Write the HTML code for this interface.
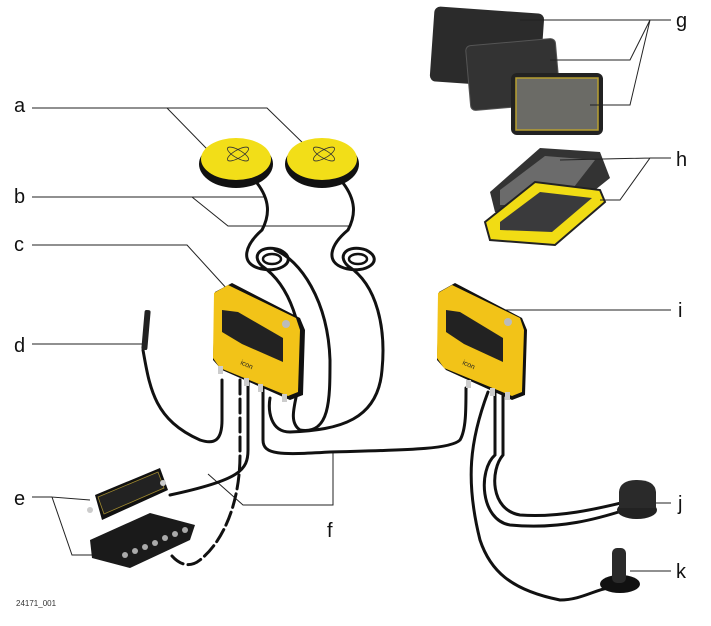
<!DOCTYPE html>
<html><head><style>
html,body{margin:0;padding:0;background:#fff;}
svg{display:block;}
text{font-family:"Liberation Sans",sans-serif;}
</style></head><body>
<svg width="711" height="626" viewBox="0 0 711 626" xmlns="http://www.w3.org/2000/svg">
<g font-size="20" fill="#111">
<text x="14" y="112">a</text>
<text x="14" y="203">b</text>
<text x="14" y="251">c</text>
<text x="14" y="352">d</text>
<text x="14" y="505">e</text>
<text x="327" y="537">f</text>
<text x="676" y="27">g</text>
<text x="676" y="166">h</text>
<text x="678" y="317">i</text>
<text x="678" y="510">j</text>
<text x="676" y="578">k</text>
</g>
<text x="16" y="606" font-size="8" fill="#333">24171_001</text>

<!-- tablets g -->
<g>
<rect x="432" y="10" width="110" height="75" rx="6" fill="#2b2b2b" transform="rotate(4 487 47)"/>
<rect x="468" y="42" width="90" height="65" rx="5" fill="#333" stroke="#555" transform="rotate(-5 513 74)"/>
<rect x="511" y="73" width="92" height="62" rx="6" fill="#222"/>
<rect x="516" y="78" width="82" height="52" fill="#6b6b66" stroke="#b8a030" stroke-width="1.5"/>
</g>
<!-- tablets h -->
<g>
<polygon points="490,192 540,148 600,152 610,178 560,218 495,212" fill="#333"/>
<polygon points="500,190 545,156 595,160 560,205 500,205" fill="#6b6b6b"/>
<polygon points="485,222 535,182 600,190 605,202 555,245 490,240" fill="#f1dc14" stroke="#222" stroke-width="2"/>
<polygon points="500,222 540,192 592,198 552,232 500,230" fill="#3a3a3c"/>
</g>

<!-- leader lines -->
<g stroke="#222" stroke-width="1" fill="none">
<path d="M32 108H167L207 149M167 108H267L308 148"/>
<path d="M32 197H265M192 197L228 226H350"/>
<path d="M32 245H187L228 290"/>
<path d="M32 344H143"/>
<path d="M32 497H52M90 500L52 497L72 555H112"/>
<path d="M333 452V505H243L208 474"/>
<path d="M671 20H650L520 20M650 20L630 60H550M650 20L630 105H590"/>
<path d="M671 158H650L620 200H600M650 158L560 160"/>
<path d="M671 310H500"/>
<path d="M671 503H650"/>
<path d="M671 571H630"/>
</g>

<!-- cables -->
<g stroke="#111" stroke-width="3" fill="none" stroke-linecap="round">
<path d="M257 183C270 200 270 215 262 230C245 245 240 262 258 268C280 275 300 260 280 250C262 244 250 255 262 266C290 285 305 330 300 370C300 395 285 420 300 430C330 435 330 400 330 360C328 300 300 260 275 250"/>
<ellipse cx="272" cy="259" rx="9" ry="5" stroke-width="2.5"/>
<path d="M343 183C356 200 356 215 348 230C330 245 325 262 344 268C366 275 386 260 366 250C348 244 336 255 348 266C378 285 386 330 382 370C378 420 340 430 290 432C270 432 268 410 270 398"/>
<ellipse cx="358" cy="259" rx="9" ry="5" stroke-width="2.5"/>
<path d="M143 350C150 390 155 420 200 440C215 445 222 440 222 420V380"/>
<path d="M248 380V450C248 470 240 480 170 495"/>
<path d="M240 380V455C240 500 225 540 200 560C190 568 180 565 172 556" stroke-dasharray="14 5"/>
<path d="M263 382V440C263 455 280 455 330 452C400 450 450 450 460 440C466 430 466 410 466 388"/>
<path d="M495 390V455C478 470 480 520 510 525C560 530 600 518 625 510"/>
<path d="M503 390V455C490 470 490 510 520 515C560 518 600 508 625 502"/>
<path d="M488 392C470 440 465 480 480 540C490 570 510 590 560 600C580 600 595 590 608 588"/>
</g>

<!-- antennas a -->
<g>
<ellipse cx="236" cy="164" rx="37" ry="24" fill="#111"/>
<ellipse cx="236" cy="159" rx="35" ry="21" fill="#f2de18"/>
<ellipse cx="322" cy="164" rx="37" ry="24" fill="#111"/>
<ellipse cx="322" cy="159" rx="35" ry="21" fill="#f2de18"/>
<g fill="none" stroke="#333" stroke-width="0.8">
<ellipse cx="238" cy="154" rx="12" ry="4" transform="rotate(30 238 154)"/>
<ellipse cx="238" cy="154" rx="12" ry="4" transform="rotate(-30 238 154)"/>
<ellipse cx="324" cy="154" rx="12" ry="4" transform="rotate(30 324 154)"/>
<ellipse cx="324" cy="154" rx="12" ry="4" transform="rotate(-30 324 154)"/>
</g>
</g>

<!-- receiver left c -->
<g>
<polygon points="215,292 232,283 300,318 305,330 303,395 290,400 222,370 213,360" fill="#111"/>
<polygon points="214,293 228,285 296,318 300,330 298,392 288,396 220,368 213,358" fill="#f2c318"/>
<polygon points="222,310 238,312 283,338 283,362 242,344 222,332" fill="#222"/>
<circle cx="286" cy="324" r="4" fill="#bbb"/>
<text x="240" y="364" font-size="7" fill="#222" transform="rotate(25 240 364)">icon</text>
<g fill="#ccc"><rect x="218" y="366" width="5" height="8"/><rect x="244" y="378" width="5" height="8"/><rect x="258" y="384" width="5" height="8"/><rect x="282" y="394" width="5" height="8"/></g>
</g>
<!-- receiver right i -->
<g>
<polygon points="439,292 455,283 522,318 527,330 525,395 512,400 446,370 437,360" fill="#111"/>
<polygon points="438,293 452,285 520,318 524,330 522,392 512,396 444,368 437,358" fill="#f2c318"/>
<polygon points="446,310 460,312 503,338 503,362 464,344 446,332" fill="#222"/>
<circle cx="508" cy="322" r="4" fill="#bbb"/>
<text x="462" y="364" font-size="7" fill="#222" transform="rotate(25 462 364)">icon</text>
<g fill="#ccc"><rect x="466" y="380" width="5" height="8"/><rect x="490" y="388" width="5" height="8"/><rect x="505" y="392" width="5" height="8"/></g>
</g>

<!-- d antenna -->
<rect x="143" y="310" width="6" height="40" rx="2" fill="#222" transform="rotate(5 146 330)"/>

<!-- e devices -->
<g>
<polygon points="95,495 160,468 168,490 102,520" fill="#111"/>
<polygon points="98,497 158,472 164,488 104,514" fill="#222" stroke="#a08a30" stroke-width="0.8"/>
<polygon points="90,540 150,513 195,525 190,540 130,568 92,558" fill="#1a1a1a"/>
<g fill="#aaa"><circle cx="125" cy="555" r="3"/><circle cx="135" cy="551" r="3"/><circle cx="145" cy="547" r="3"/><circle cx="155" cy="543" r="3"/><circle cx="165" cy="538" r="3"/><circle cx="175" cy="534" r="3"/><circle cx="185" cy="530" r="3"/></g>
<circle cx="90" cy="510" r="3" fill="#ccc"/><circle cx="163" cy="483" r="3" fill="#ccc"/>
</g>

<!-- j -->
<ellipse cx="637" cy="510" rx="20" ry="9" fill="#222"/>
<path d="M619 492Q620 480 637 480Q655 480 656 492V508H619Z" fill="#2a2a2a"/>
<!-- k -->
<ellipse cx="620" cy="584" rx="20" ry="9" fill="#111"/>
<rect x="612" y="548" width="14" height="35" rx="5" fill="#2a2a2a"/>
</svg>
</body></html>
